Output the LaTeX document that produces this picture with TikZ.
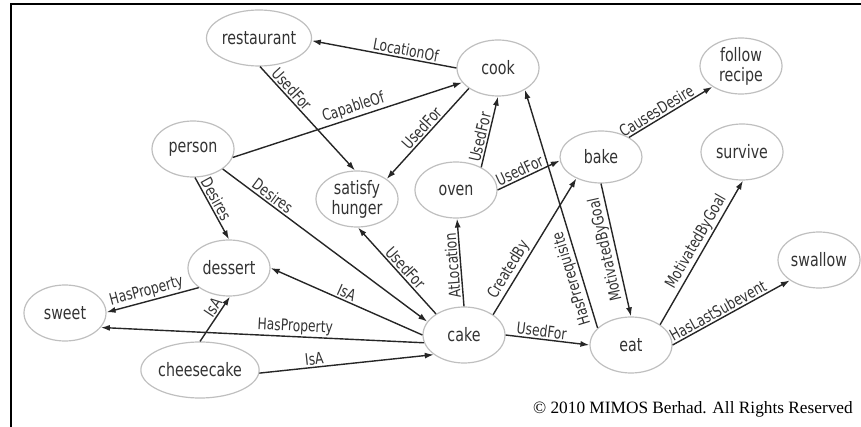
\documentclass[tikz,border=0pt]{standalone}
\usepackage{fontspec}
\newfontfamily\nodefont{DejaVu Sans}[FakeStretch=0.77]
\newfontfamily\copyfont{Liberation Serif}
\usetikzlibrary{shapes.geometric,arrows.meta}

\begin{document}
\begin{tikzpicture}[x=1pt,y=-1pt,
  concept/.style={ellipse, draw=gray!50, line width=1.2pt,
    minimum width=82pt, minimum height=56pt, inner sep=0pt,
    align=center, text=black!80,
    font=\nodefont\fontsize{18.5}{20}\selectfont},
  rel/.style={draw=black!85, line width=1.4pt, -{Latex[length=9pt,width=6pt]}},
  relback/.style={draw=black!85, line width=1.4pt, {Latex[length=9pt,width=6pt]}-},
  lbl/.style={sloped, above, inner sep=1.5pt, text=black!80,
    font=\nodefont\fontsize{16}{16}\selectfont}
]
\useasboundingbox (0,0) rectangle (861,427);

% frame along the top and left edges
\draw[line width=2.2pt] (861,4.3) -- (11,4.3) -- (11,427);

% concepts
\node[concept] (restaurant) at (259,38)  {restaurant};
\node[concept] (cook)       at (498,68)  {cook};
\node[concept] (person)     at (193,149) {person};
\node[concept] (satisfy)    at (357,199) {satisfy\\hunger};
\node[concept] (oven)       at (456,190) {oven};
\node[concept, minimum height=52pt] (bake) at (601,157) {bake};
\node[concept] (follow)     at (741,66)  {follow\\recipe};
\node[concept] (survive)    at (742,152) {survive};
\node[concept] (swallow)    at (819,260) {swallow};
\node[concept] (eat)        at (631,345) {eat};
\node[concept] (cake)       at (464,335) {cake};
\node[concept] (dessert)    at (229,268) {dessert};
\node[concept] (sweet)      at (65,313)  {sweet};
\node[concept] (cheesecake) at (200,370) {cheesecake};

% relations
\draw[rel] (cook.180) -- node[lbl,pos=0.36]{LocationOf} (restaurant.-3);
\draw[rel] (restaurant.-88) -- node[lbl,pos=0.27]{UsedFor} (satisfy.94);
\draw[rel] (person.-12) -- node[lbl,pos=0.54]{CapableOf} (cook.202);
\draw[rel] (cook.215) -- node[lbl,pos=0.5]{UsedFor} (satisfy.34);
\draw[rel] (oven.42) -- node[lbl,pos=0.4]{UsedFor} (cook.-90);
\draw[rel] (oven.0) -- node[lbl,pos=0.41]{UsedFor} (bake.185);
\draw[rel] (eat.153) -- node[lbl,allow upside down,pos=0.22]{HasPrerequisite} (cook.-39);
\draw[rel] (bake.35) -- node[lbl,pos=0.38]{CausesDesire} (follow.216);
\draw[relback] (eat.90) -- node[lbl,allow upside down,pos=0.52]{MotivatedByGoal} (bake.-90);
\draw[rel] (eat.35) -- node[lbl,pos=0.54]{MotivatedByGoal} (survive.-88);
\draw[rel] (eat.0) -- node[lbl,pos=0.42]{HasLastSubevent} (swallow.215);
\draw[rel] (cake.0) -- node[lbl,pos=0.42]{UsedFor} (eat.180);
\draw[rel] (cake.35) -- node[lbl,pos=0.29]{CreatedBy} (bake.221);
\draw[rel] (cake.90) -- node[lbl,allow upside down,pos=0.47]{AtLocation} (oven.-88);
\draw[rel] (cake.143) -- node[lbl,pos=0.47]{UsedFor} (satisfy.-88);
\draw[rel] (person.-34) -- node[lbl,pos=0.22]{Desires} (cake.160);
\draw[rel] (person.-86) -- node[lbl,pos=0.41]{Desires} (dessert.90);
\draw[rel] (cake.180) -- node[lbl,pos=0.52]{IsA} (dessert.0);
\draw[rel] (cake.191) -- node[lbl,pos=0.40]{HasProperty} (sweet.-22);
\draw[rel] (dessert.213) -- node[lbl,pos=0.54]{HasProperty} (sweet.1);
\draw[rel] (cheesecake.90) -- node[lbl,pos=0.66]{IsA} (dessert.-88);
\draw[rel] (cheesecake.-3) -- node[lbl,pos=0.32]{IsA} (cake.213);

% copyright line
\node[anchor=base east, inner sep=0pt, font=\copyfont\fontsize{17.3}{18}\selectfont]
  (copyright) at (853,413) {\textcopyright{} 2010 MIMOS Berhad. All Rights Reserved};
\end{tikzpicture}
\end{document}
